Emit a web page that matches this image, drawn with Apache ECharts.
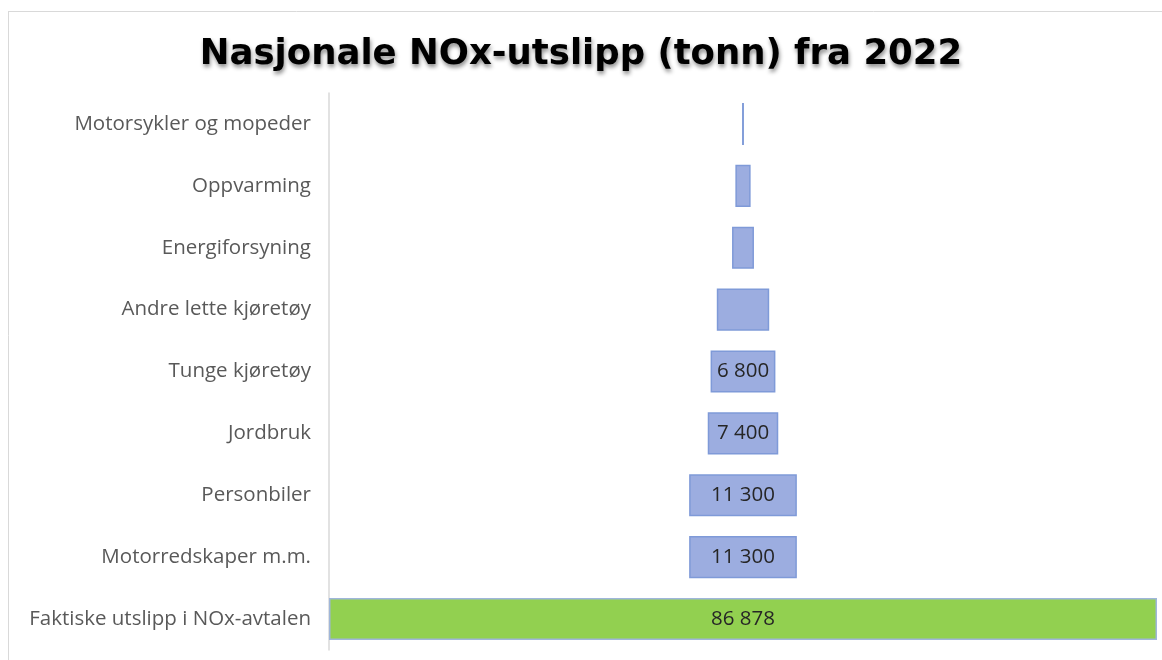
<!DOCTYPE html>
<html>
<head>
<meta charset="utf-8">
<script src="https://cdn.jsdelivr.net/npm/echarts@6/dist/echarts.min.js"></script>
<style>
html,body{margin:0;padding:0;background:#fff;}
#c{width:1162px;height:660px;}
</style>
</head>
<body>
<div id="c"></div>
<script>
var categories = ["Motorsykler og mopeder", "Oppvarming", "Energiforsyning", "Andre lette kjøretøy", "Tunge kjøretøy", "Jordbruk", "Personbiler", "Motorredskaper m.m.", "Faktiske utslipp i NOx-avtalen"];
var values = [200, 1600, 2300, 5500, 6800, 7400, 11300, 11300, 86878];
var showLabel = [false, false, false, false, true, true, true, true, true];
var total = 86878;

function fmt(v){ return String(v).replace(/\B(?=(\d{3})+(?!\d))/g, ' '); }

var offsetData = values.map(function(v){ return (total - v) / 2; });
var barData = values.map(function(v, i){
  var isTotal = (i === values.length - 1);
  return {
    value: v,
    itemStyle: isTotal ? {color: '#92d050', borderColor: '#9fb6da', borderWidth: 1.5}
                       : {color: '#9cade0', borderColor: '#7f9ad8', borderWidth: 1.5},
    label: {show: showLabel[i]}
  };
});

var chart = echarts.init(document.getElementById('c'));
chart.setOption({
  animation: false,
  backgroundColor: '#ffffff',
  title: {
    text: 'Nasjonale NOx-utslipp (tonn) fra 2022',
    left: 'center', top: 32,
    textStyle: {fontFamily: 'DejaVu Sans', fontWeight: 'bold', fontSize: 35.5, color: '#000',
      textShadowColor: 'rgba(0,0,0,0.45)', textShadowBlur: 4, textShadowOffsetX: 1, textShadowOffsetY: 3}
  },
  graphic: [
    {type: 'line', shape: {x1: 8, y1: 11.5, x2: 1162, y2: 11.5}, style: {stroke: '#d9d9d9', lineWidth: 1}},
    {type: 'line', shape: {x1: 8.5, y1: 11, x2: 8.5, y2: 660}, style: {stroke: '#d9d9d9', lineWidth: 1}}
  ],
  grid: {left: 329, right: 5, top: 93, bottom: 10, containLabel: false},
  xAxis: {type: 'value', min: 0, max: total, show: false},
  yAxis: {
    type: 'category', data: categories, inverse: true,
    axisLine: {show: true, lineStyle: {color: '#d9d9d9', width: 1.5}},
    axisTick: {show: false},
    axisLabel: {color: '#595959', fontFamily: 'Open Sans', fontSize: 20.5, margin: 18}
  },
  series: [
    {type: 'bar', stack: 's', data: offsetData, itemStyle: {color: 'transparent'}, barCategoryGap: '32%', silent: true},
    {type: 'bar', stack: 's', data: barData, barCategoryGap: '32%',
      label: {position: 'inside', color: '#262626', fontFamily: 'Open Sans', fontSize: 20.5,
        formatter: function(p){ return fmt(p.value); }}}
  ]
});
</script>
</body>
</html>
